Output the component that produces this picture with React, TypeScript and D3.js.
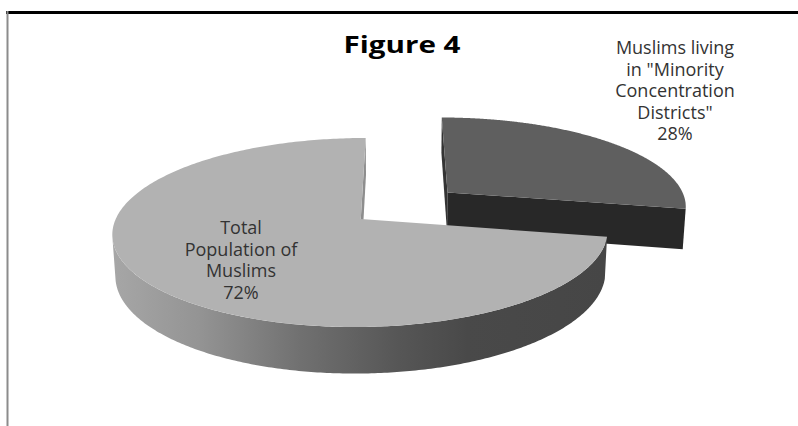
import React from "react";
import * as d3 from "d3";

// ---------- data ----------
const categories = [
  'Muslims living in "Minority Concentration Districts"',
  "Total Population of Muslims",
];
const values = [28, 72];
const labelLines = [
  ["Muslims living", 'in "Minority', "Concentration", 'Districts"'],
  ["Total", "Population of", "Muslims"],
];
const exploded = [true, false];
const title = "Figure 4";

// ---------- layout / style ----------
const W = 798;
const H = 426;
const CX = 400; // perspective centre on screen
const CY = 219;
const F = 1588;
const D = 6.48;
const PHI = (22.2 * Math.PI) / 180;
const PIE_X0 = -0.16; // world offset of pie centre
const THICK = 0.183;
const EXPLODE = 0.47;

const topColors = ["#5f5f5f", "#b2b2b2"];
const faceColors = ["#282828", "#8e8e8e"];
const startFaceColors = ["#343434", "#8e8e8e"];
const labelPos = [
  { x: 675, y: 54 },
  { x: 241, y: 234 },
];

const cosP = Math.cos(PHI);
const sinP = Math.sin(PHI);

function project(X: number, Y: number, Z: number): [number, number] {
  const xc = X;
  const yc = Y * cosP + Z * sinP;
  const zc = D + Z * cosP - Y * sinP;
  return [CX + (F * xc) / zc, CY - (F * yc) / zc];
}

const line = d3.line<[number, number]>().curve(d3.curveLinearClosed);

type Slice = {
  idx: number;
  a0: number;
  a1: number;
  xc: number;
  zc: number;
};

function rim(s: Slice, a: number, y: number): [number, number] {
  return project(s.xc + Math.sin(a), y, s.zc + Math.cos(a));
}

export default function App() {
  const arcs = d3
    .pie<number>()
    .sort(null)
    .value((d) => d)(values);

  const slices: Slice[] = arcs.map((a, i) => {
    const mid = (a.startAngle + a.endAngle) / 2;
    const e = exploded[i] ? EXPLODE : 0;
    return {
      idx: i,
      a0: a.startAngle,
      a1: a.endAngle,
      xc: PIE_X0 + e * Math.sin(mid),
      zc: e * Math.cos(mid),
    };
  });

  // back to front: larger world Z of bisector first
  const order = [...slices].sort((p, q) => {
    const mp = (p.a0 + p.a1) / 2;
    const mq = (q.a0 + q.a1) / 2;
    return q.zc + 0.5 * Math.cos(mq) - (p.zc + 0.5 * Math.cos(mp));
  });

  const camX = 0;
  const camZ = -D * cosP;

  const shapes: React.ReactNode[] = [];
  order.forEach((s) => {
    const i = s.idx;
    // curved outer side
    const steps = 400;
    const vis: number[] = [];
    for (let k = 0; k <= steps; k++) {
      const a = s.a0 + ((s.a1 - s.a0) * k) / steps;
      const px = s.xc + Math.sin(a);
      const pz = s.zc + Math.cos(a);
      const dot = (camX - px) * Math.sin(a) + (camZ - pz) * Math.cos(a);
      if (dot > 0) vis.push(a);
    }
    if (vis.length > 1) {
      const pts: [number, number][] = [];
      vis.forEach((a) => pts.push(rim(s, a, 0)));
      [...vis].reverse().forEach((a) => pts.push(rim(s, a, -THICK)));
      shapes.push(
        <path
          key={`side${i}`}
          d={line(pts) || ""}
          fill={i === 1 ? "url(#sideGrad)" : "#3a3a3a"}
        />
      );
    }
    // cut faces
    const faces = [
      { a: s.a0, nx: -Math.cos(s.a0), nz: Math.sin(s.a0), col: startFaceColors[i] },
      { a: s.a1, nx: Math.cos(s.a1), nz: -Math.sin(s.a1), col: faceColors[i] },
    ];
    faces.forEach((f, j) => {
      const dot = (camX - s.xc) * f.nx + (camZ - s.zc) * f.nz;
      if (dot <= 0) return;
      const pts: [number, number][] = [
        project(s.xc, 0, s.zc),
        rim(s, f.a, 0),
        rim(s, f.a, -THICK),
        project(s.xc, -THICK, s.zc),
      ];
      shapes.push(<path key={`face${i}-${j}`} d={line(pts) || ""} fill={f.col} />);
    });
    // top surface
    const tpts: [number, number][] = [project(s.xc, 0, s.zc)];
    const n = 300;
    for (let k = 0; k <= n; k++) {
      const a = s.a0 + ((s.a1 - s.a0) * k) / n;
      tpts.push(rim(s, a, 0));
    }
    shapes.push(<path key={`top${i}`} d={line(tpts) || ""} fill={topColors[i]} />);
  });

  const fmt = d3.format(".0%");
  const total = d3.sum(values);

  return (
    <svg
      width={W}
      height={H}
      style={{ position: "absolute", left: 0, top: 0, background: "#fff" }}
      fontFamily="'Open Sans', sans-serif"
    >
      <defs>
        <linearGradient id="sideGrad" gradientUnits="userSpaceOnUse" x1={115} y1={0} x2={605} y2={0}>
          <stop offset="0" stopColor="#a6a6a6" />
          <stop offset="0.17" stopColor="#949494" />
          <stop offset="0.38" stopColor="#707070" />
          <stop offset="0.58" stopColor="#565656" />
          <stop offset="0.72" stopColor="#494949" />
          <stop offset="1" stopColor="#464646" />
        </linearGradient>
      </defs>
      <rect x={0} y={0} width={W} height={H} fill="#fff" />
      <rect x={6} y={11} width={W - 6} height={3} fill="#000" />
      <rect x={6.5} y={11} width={2} height={H - 11} fill="#8c8c8c" />
      {shapes}
      <text
        x={402}
        y={53}
        textAnchor="middle"
        fontSize={23}
        fontWeight="bold"
        fill="#000"
        textLength={117}
        lengthAdjust="spacingAndGlyphs"
      >
        {title}
      </text>
      {categories.map((c, i) => (
        <text
          key={c}
          x={labelPos[i].x}
          y={labelPos[i].y}
          textAnchor="middle"
          fontSize={18}
          fill="#333"
        >
          {[...labelLines[i], fmt(values[i] / total)].map((t, k) => (
            <tspan key={k} x={labelPos[i].x} dy={k === 0 ? 0 : 21.6}>
              {t}
            </tspan>
          ))}
        </text>
      ))}
    </svg>
  );
}
